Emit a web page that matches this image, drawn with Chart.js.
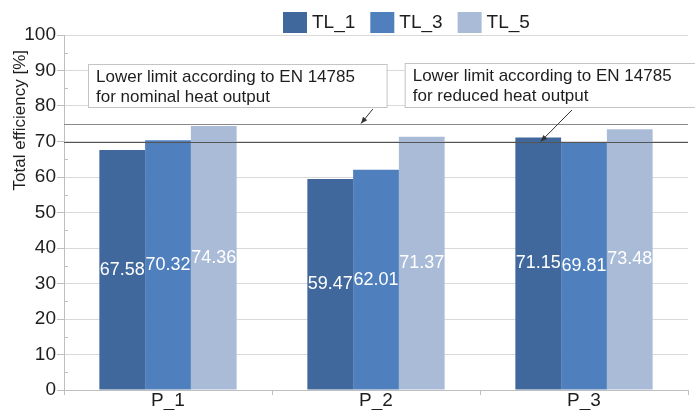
<!DOCTYPE html>
<html>
<head>
<meta charset="utf-8">
<script src="https://cdn.jsdelivr.net/npm/chart.js@4.4.0/dist/chart.umd.min.js"></script>
<style>
  html, body { margin: 0; padding: 0; background: #fff; }
  #wrap { width: 695px; height: 410px; }
</style>
</head>
<body>
<div id="wrap"><canvas id="chart" width="695" height="410"></canvas></div>
<script>
// categories and series
const categories = ['P_1', 'P_2', 'P_3'];
const seriesNames = ['TL_1', 'TL_3', 'TL_5'];
const tl1 = [67.58, 59.47, 71.15];
const tl3 = [70.32, 62.01, 69.81];
const tl5 = [74.36, 71.37, 73.48];
const seriesColors = ['#41689c', '#4f80bd', '#aabbd8'];

// limit lines (EN 14785)
const limitNominal = 75;
const limitReduced = 70;
const noteNominal = ['Lower limit according to EN 14785', 'for nominal heat output'];
const noteReduced = ['Lower limit according to EN 14785', 'for reduced heat output'];
const yTitle = 'Total efficiency [%]';

const FONT = '"Liberation Sans", Arial, Helvetica, sans-serif';
const TEXT = '#1e1e1e';

// white value labels in the middle of each bar
const valueLabels = {
    id: 'valueLabels',
    afterDatasetsDraw(chart) {
        const ctx = chart.ctx;
        ctx.save();
        ctx.font = '18px ' + FONT;
        ctx.fillStyle = '#ffffff';
        ctx.textAlign = 'center';
        ctx.textBaseline = 'middle';
        chart.data.datasets.forEach((ds, i) => {
            chart.getDatasetMeta(i).data.forEach((bar, j) => {
                ctx.fillText(ds.data[j].toFixed(2), bar.x, (bar.y + bar.base) / 2);
            });
        });
        ctx.restore();
    }
};

function arrow(ctx, x1, y1, x2, y2) {
    ctx.beginPath();
    ctx.moveTo(x1, y1);
    ctx.lineTo(x2, y2);
    ctx.stroke();
    const a = Math.atan2(y2 - y1, x2 - x1);
    ctx.beginPath();
    ctx.moveTo(x2, y2);
    ctx.lineTo(x2 - 7 * Math.cos(a - 0.4), y2 - 7 * Math.sin(a - 0.4));
    ctx.lineTo(x2 - 7 * Math.cos(a + 0.4), y2 - 7 * Math.sin(a + 0.4));
    ctx.closePath();
    ctx.fill();
}

function noteBox(ctx, x1, y1, x2, y2, lines) {
    ctx.fillStyle = '#ffffff';
    ctx.fillRect(x1, y1, x2 - x1, y2 - y1);
    ctx.strokeStyle = '#c4c4c4';
    ctx.lineWidth = 1;
    ctx.strokeRect(x1 + 0.5, y1 + 0.5, x2 - x1, y2 - y1);
    ctx.fillStyle = TEXT;
    ctx.font = '17px ' + FONT;
    ctx.textAlign = 'left';
    ctx.textBaseline = 'middle';
    ctx.fillText(lines[0], x1 + 8, y1 + 13);
    ctx.fillText(lines[1], x1 + 8, y1 + 33);
}

// limit lines, note boxes, arrows, minor ticks, legend, axis title
const limits = {
    id: 'limits',
    afterDatasetsDraw(chart) {
        const ctx = chart.ctx;
        const a = chart.chartArea;
        const y = chart.scales.y;
        const w = a.right - a.left;
        ctx.save();

        // minor ticks inside the y axis
        ctx.strokeStyle = '#bfbfbf';
        ctx.lineWidth = 1;
        for (let v = 5; v < 100; v += 10) {
            const py = Math.round(y.getPixelForValue(v)) + 0.5;
            ctx.beginPath();
            ctx.moveTo(a.left, py);
            ctx.lineTo(a.left + 4, py);
            ctx.stroke();
        }

        const yNom = Math.round(y.getPixelForValue(limitNominal)) + 0.5;
        const yRed = Math.round(y.getPixelForValue(limitReduced)) + 0.5;
        ctx.strokeStyle = '#8a8a8a';
        ctx.beginPath();
        ctx.moveTo(a.left, yNom);
        ctx.lineTo(a.right, yNom);
        ctx.stroke();
        ctx.strokeStyle = '#555555';
        ctx.beginPath();
        ctx.moveTo(a.left, yRed);
        ctx.lineTo(a.right, yRed);
        ctx.stroke();

        const bTop = Math.round(y.getPixelForValue(91.8));
        const bBot = Math.round(y.getPixelForValue(79.7));
        noteBox(ctx, a.left + 24, bTop, a.left + 0.517 * w, bBot, noteNominal);
        noteBox(ctx, a.left + 0.546 * w, bTop - 1, a.right + 12, bBot, noteReduced);

        ctx.strokeStyle = '#333333';
        ctx.fillStyle = '#333333';
        ctx.lineWidth = 1;
        arrow(ctx, a.left + 0.495 * w, bBot + 2, a.left + 0.476 * w, yNom - 1);
        arrow(ctx, a.left + 0.814 * w, bBot + 3, a.left + 0.764 * w, yRed - 1);

        // legend
        ctx.font = '19px ' + FONT;
        ctx.textAlign = 'left';
        ctx.textBaseline = 'middle';
        let lx = a.left + 219;
        const ly = 12;
        chart.data.datasets.forEach(ds => {
            ctx.fillStyle = ds.backgroundColor;
            ctx.fillRect(lx, ly, 24, 21);
            ctx.fillStyle = TEXT;
            ctx.fillText(ds.label, lx + 29, ly + 11);
            lx += 29 + ctx.measureText(ds.label).width + 15;
        });

        // y axis title (sits higher than the chart-area centre)
        ctx.translate(20, y.getPixelForValue(76));
        ctx.rotate(-Math.PI / 2);
        ctx.font = '17px ' + FONT;
        ctx.textAlign = 'center';
        ctx.fillStyle = TEXT;
        ctx.fillText(yTitle, 0, 0);
        ctx.restore();
    }
};

const ctx = document.getElementById('chart').getContext('2d');
new Chart(ctx, {
    type: 'bar',
    data: {
        labels: categories,
        datasets: [
            { label: seriesNames[0], data: tl1, backgroundColor: seriesColors[0] },
            { label: seriesNames[1], data: tl3, backgroundColor: seriesColors[1] },
            { label: seriesNames[2], data: tl5, backgroundColor: seriesColors[2] }
        ]
    },
    options: {
        responsive: false,
        animation: false,
        devicePixelRatio: 1,
        layout: { padding: { top: 35, right: 7, left: 0, bottom: 0 } },
        datasets: {
            bar: { categoryPercentage: 0.66, barPercentage: 1, borderWidth: 0 }
        },
        scales: {
            x: {
                grid: {
                    offset: true,
                    drawOnChartArea: false,
                    drawTicks: true,
                    tickLength: 5,
                    tickColor: '#bfbfbf'
                },
                border: { color: '#bfbfbf' },
                ticks: {
                    color: TEXT,
                    font: { family: FONT, size: 19 },
                    padding: -6
                },
                afterFit(scale) { scale.height = 20; }
            },
            y: {
                min: 0,
                max: 100,
                ticks: {
                    stepSize: 5,
                    autoSkip: false,
                    color: TEXT,
                    font: { family: FONT, size: 19 },
                    padding: 1,
                    callback: v => (v % 10 === 0 ? v : '')
                },
                grid: {
                    color: c => (c.tick && c.tick.value % 10 === 0 ? '#d9d9d9' : 'rgba(0,0,0,0)'),
                    tickColor: c => (c.tick && c.tick.value % 10 === 0 ? '#bfbfbf' : 'rgba(0,0,0,0)'),
                    tickLength: 7
                },
                border: { color: '#bfbfbf' },
                afterFit(scale) { scale.width = 64; }
            }
        },
        plugins: {
            legend: { display: false },
            tooltip: { enabled: false }
        }
    },
    plugins: [valueLabels, limits]
});
</script>
</body>
</html>
